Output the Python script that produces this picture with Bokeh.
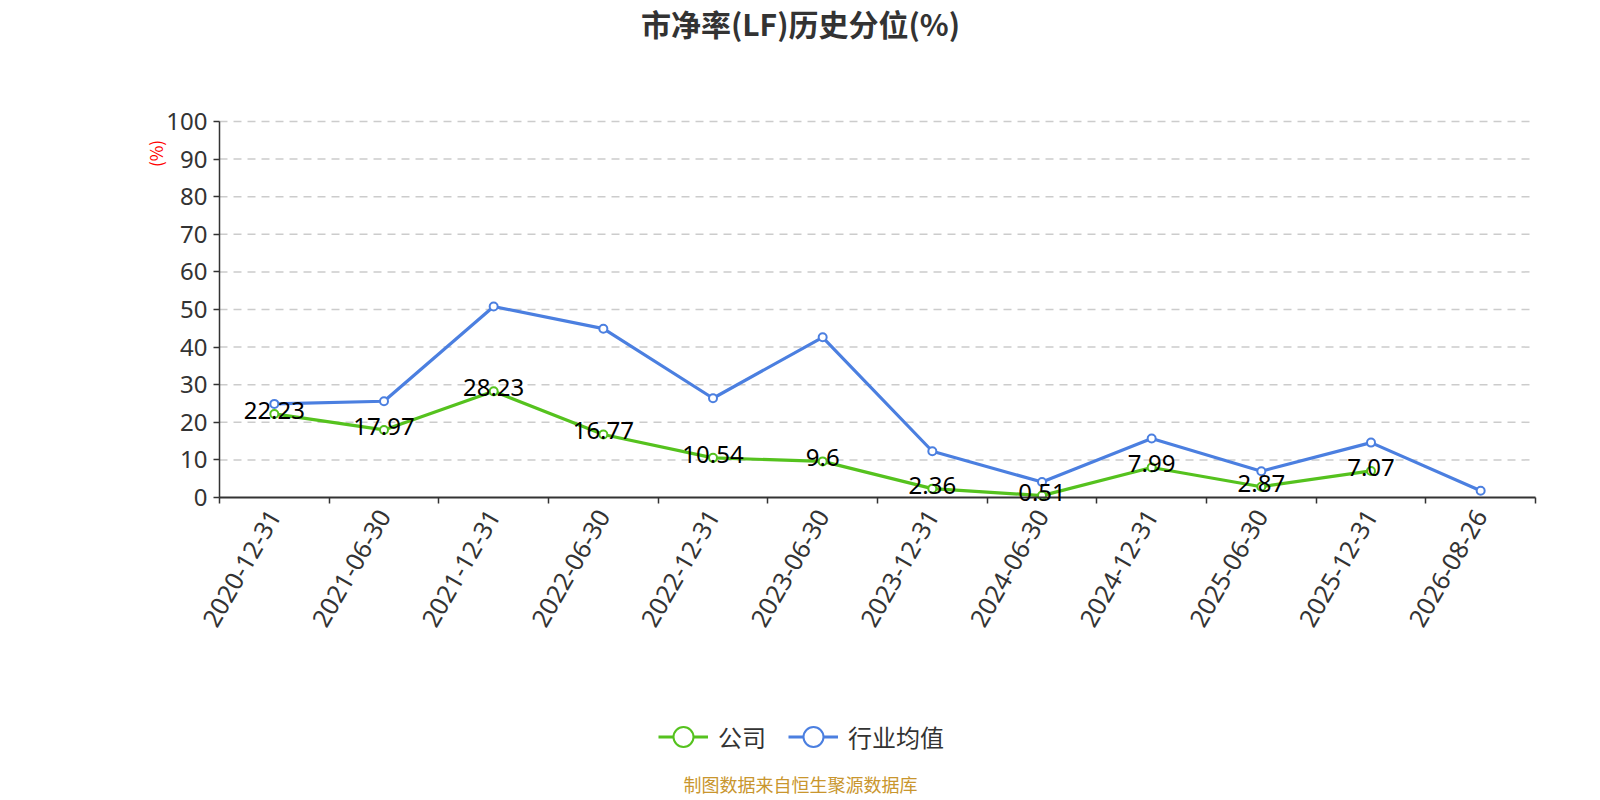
import math
from bokeh.plotting import figure
from bokeh.models import (Range1d, FixedTicker, Legend, LegendItem, Label,
                          LabelSet, ColumnDataSource)
from bokeh.core.properties import value
from bokeh.embed import file_html
from bokeh.resources import INLINE

# ---------------- data ----------------
dates = ["2020-12-31", "2021-06-30", "2021-12-31", "2022-06-30", "2022-12-31",
         "2023-06-30", "2023-12-31", "2024-06-30", "2024-12-31", "2025-06-30",
         "2025-12-31", "2026-08-26"]
company = [22.23, 17.97, 28.23, 16.77, 10.54, 9.6, 2.36, 0.51, 7.99, 2.87, 7.07]
industry = [24.9, 25.6, 50.8, 44.9, 26.4, 42.6, 12.3, 4.1, 15.7, 7.0, 14.6, 1.8]
y_ticks = [0, 10, 20, 30, 40, 50, 60, 70, 80, 90, 100]
title_text = "市净率(LF)历史分位(%)"
series_names = ["公司", "行业均值"]
source_text = "制图数据来自恒生聚源数据库"
unit_text = "(%)"

GREEN = "#55c21e"
BLUE = "#4b7fe0"
NUM_FONT = "Noto Sans"
CJK_FONT = "Noto Sans CJK SC"

# layout (pixels on the canvas)
W, H = 1600, 800
PL, PR, PT, PB = 219, 1535, 121, 497   # plotting area edges

n = len(dates)
pos = [i + 0.5 for i in range(n)]
px_x = (PR - PL) / n
px_y = (PB - PT) / (y_ticks[-1] - y_ticks[0])


def xd(px):   # canvas x -> data x
    return (px - PL) / px_x


def yd(py):   # canvas y -> data y
    return y_ticks[0] + (PB - py) / px_y


src_c = ColumnDataSource(dict(x=pos[:len(company)], y=company,
                              label=[str(v) for v in company]))
src_i = ColumnDataSource(dict(x=pos[:len(industry)], y=industry))

# the frame covers the whole canvas; axes are pinned at x=0 / y=0
p = figure(width=W, height=H,
           x_range=Range1d(xd(0), xd(W)), y_range=Range1d(yd(H), yd(0)),
           output_backend="svg", toolbar_location=None,
           min_border=0, min_border_left=0, min_border_right=0,
           min_border_top=0, min_border_bottom=0,
           outline_line_color=None, background_fill_color="white")
p.title = None

# x axis
xa = p.xaxis[0]
xa.fixed_location = y_ticks[0]
xa.bounds = (0, n)
xa.ticker = FixedTicker(ticks=pos, minor_ticks=list(range(n + 1)))
xa.major_label_overrides = {pp: d for pp, d in zip(pos, dates)}
xa.major_tick_in = 0
xa.major_tick_out = 0
xa.minor_tick_in = 0
xa.minor_tick_out = 6
xa.minor_tick_line_color = "#333333"
xa.minor_tick_line_width = 1.5
xa.axis_line_color = "#333333"
xa.axis_line_width = 2
xa.major_label_orientation = math.pi / 3
xa.major_label_text_font = NUM_FONT
xa.major_label_text_font_size = "25px"
xa.major_label_text_color = "#333333"
xa.major_label_standoff = 8

# y axis
ya = p.yaxis[0]
ya.fixed_location = 0
ya.bounds = (y_ticks[0], y_ticks[-1])
ya.ticker = FixedTicker(ticks=y_ticks)
ya.minor_tick_line_color = None
ya.major_tick_in = 0
ya.major_tick_out = 6
ya.major_tick_line_color = "#333333"
ya.major_tick_line_width = 1.5
ya.axis_line_color = "#333333"
ya.axis_line_width = 1.5
ya.major_label_text_font = NUM_FONT
ya.major_label_text_font_size = "24px"
ya.major_label_text_color = "#333333"
ya.major_label_standoff = 6

# dashed horizontal grid, limited to the plotting area
p.xgrid.visible = False
p.ygrid.visible = False
g = y_ticks[1:]
p.segment(x0=[0] * len(g), x1=[n] * len(g), y0=g, y1=g,
          line_color="#cccccc", line_dash="8 6", line_width=1.5)

# series
gl = p.line("x", "y", source=src_c, line_color=GREEN, line_width=3.2)
gs = p.scatter("x", "y", source=src_c, size=8, fill_color="white",
               line_color=GREEN, line_width=2)
bl = p.line("x", "y", source=src_i, line_color=BLUE, line_width=3.2)
bs = p.scatter("x", "y", source=src_i, size=8, fill_color="white",
               line_color=BLUE, line_width=2)

labels = LabelSet(x="x", y="y", text="label", source=src_c,
                  text_font=value(NUM_FONT), text_font_size="24px",
                  text_color="#000000", text_align="center",
                  text_baseline="alphabetic", y_offset=-5)
p.add_layout(labels)

# y-axis unit label
p.add_layout(Label(x=xd(155), y=yd(153), text=unit_text, angle=math.pi / 2,
                   text_align="center", text_baseline="middle",
                   text_color="red", text_font_size="17px",
                   text_font=CJK_FONT))

# title and source note
p.add_layout(Label(x=xd(W / 2), y=yd(22), text=title_text,
                   text_align="center", text_baseline="middle",
                   text_color="#333333", text_font_size="30px",
                   text_font_style="bold", text_font=CJK_FONT))
p.add_layout(Label(x=xd(W / 2), y=yd(783), text=source_text,
                   text_align="center", text_baseline="middle",
                   text_color="#c9962e", text_font_size="18px",
                   text_font=CJK_FONT))

# legend
legend = Legend(items=[LegendItem(label=value(series_names[0]), renderers=[gl, gs]),
                       LegendItem(label=value(series_names[1]), renderers=[bl, bs])],
                orientation="horizontal", location=(658, H - 764),
                glyph_width=50, glyph_height=55, label_standoff=10, spacing=22,
                padding=0, margin=0, border_line_color=None,
                background_fill_alpha=0,
                label_text_font=CJK_FONT, label_text_font_size="24px",
                label_text_color="#333333")
p.add_layout(legend, "center")

open("out.html", "w").write(file_html(p, INLINE))
